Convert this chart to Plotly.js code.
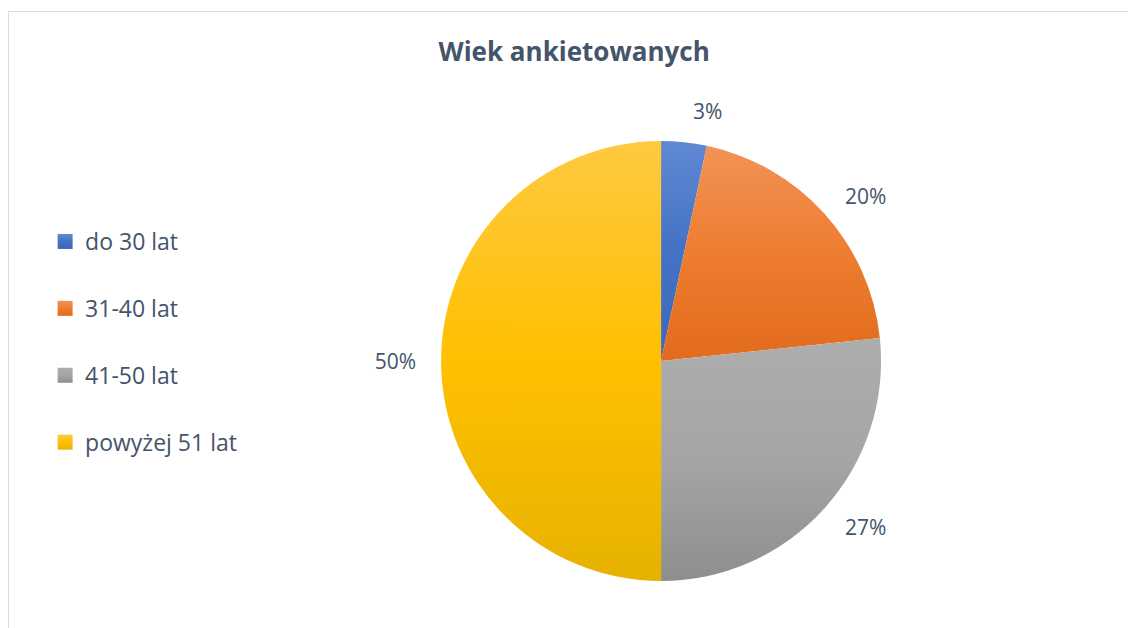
<!DOCTYPE html>
<html>
<head>
<meta charset="utf-8">
<script src="https://cdn.plot.ly/plotly-3.0.1.min.js"></script>
<style>
  html, body { margin: 0; padding: 0; background: #fff; }
  #wrap { position: relative; width: 1128px; height: 628px; overflow: hidden; }
  #chart { width: 1128px; height: 628px; }
  #frame { position: absolute; left: 8px; top: 11px; width: 1200px; height: 700px;
           border-left: 1px solid #dcdcdc; border-top: 1px solid #dcdcdc; pointer-events: none; }
</style>
</head>
<body>
<div id="wrap">
  <div id="chart"></div>
  <div id="frame"></div>
</div>
<script>
// ---- data ----
const categories = ["do 30 lat", "31-40 lat", "41-50 lat", "powyżej 51 lat"];
const counts = [1, 6, 8, 15];
const baseColors = ["#4472C4", "#ED7D31", "#A5A5A5", "#FFC000"];
const topColors = ["#6089D3", "#F29257", "#ADADAD", "#FFC940"];
const bottomColors = ["#3E68BA", "#E26B1C", "#8E8E8E", "#E6B200"];
const chartTitle = "Wiek ankietowanych";

const textColor = "#44546A";
const FONT = "'Open Sans', 'Noto Sans', sans-serif";

const pieMain = {
  type: "pie",
  values: counts,
  labels: categories,
  sort: false,
  direction: "clockwise",
  rotation: 0,
  marker: { colors: baseColors, line: { width: 0 } },
  textinfo: "none",
  hoverinfo: "skip",
  showlegend: false,
  domain: { x: [0.3910, 0.7811], y: [0.0748, 0.7754] }
};

const pieLabels = {
  type: "pie",
  values: counts,
  labels: categories,
  sort: false,
  direction: "clockwise",
  rotation: 0,
  marker: { colors: categories.map(() => "rgba(0,0,0,0)"), line: { width: 0 } },
  textposition: "outside",
  texttemplate: "%{percent:.0%}",
  outsidetextfont: { family: FONT, size: 21, color: textColor },
  hoverinfo: "skip",
  showlegend: false,
  domain: { x: [0.3750, 0.7971], y: [0.046, 0.804] }
};

const legendTraces = categories.map((c, i) => ({
  type: "scatter",
  mode: "markers",
  x: [null], y: [null],
  name: c,
  legendgroup: "g" + i,
  marker: { symbol: "square", size: 15, color: baseColors[i] },
  hoverinfo: "skip"
}));

const layout = {
  width: 1128, height: 628,
  margin: { l: 0, r: 0, t: 0, b: 0 },
  paper_bgcolor: "#fff",
  plot_bgcolor: "rgba(0,0,0,0)",
  title: {
    text: "<b>" + chartTitle + "</b>",
    font: { family: FONT, size: 26, color: textColor },
    x: 0.509, xanchor: "center",
    y: 1 - 52 / 628, yanchor: "middle", yref: "container"
  },
  xaxis: { visible: false }, yaxis: { visible: false },
  showlegend: true,
  legend: {
    x: 0.040, xanchor: "left",
    y: 1 - 220 / 628, yanchor: "top",
    font: { family: FONT, size: 23, color: textColor },
    tracegroupgap: 34,
    bgcolor: "rgba(0,0,0,0)"
  }
};

function makeGrad(defs, id, c0, c1, c2) {
  const ns = "http://www.w3.org/2000/svg";
  const g = document.createElementNS(ns, "linearGradient");
  g.setAttribute("id", id);
  g.setAttribute("x1", "0"); g.setAttribute("y1", "0");
  g.setAttribute("x2", "0"); g.setAttribute("y2", "1");
  [[0, c0], [0.5, c1], [1, c2]].forEach(([o, c]) => {
    const s = document.createElementNS(ns, "stop");
    s.setAttribute("offset", o);
    s.setAttribute("stop-color", c);
    g.appendChild(s);
  });
  defs.appendChild(g);
}

Plotly.newPlot("chart", [pieMain, pieLabels, ...legendTraces], layout,
  { displayModeBar: false, staticPlot: true }).then(gd => {
  const svg = gd.querySelector("svg.main-svg");
  let defs = svg.querySelector("defs");
  if (!defs) { defs = document.createElementNS("http://www.w3.org/2000/svg", "defs"); svg.insertBefore(defs, svg.firstChild); }
  categories.forEach((c, i) => makeGrad(defs, "grad" + i, topColors[i], baseColors[i], bottomColors[i]));
  const traces = gd.querySelectorAll(".pielayer .trace");
  if (traces.length) {
    traces[0].querySelectorAll("g.slice path.surface").forEach((p, i) => {
      p.style.fill = "url(#grad" + i + ")";
    });
  }
  gd.querySelectorAll(".legend .traces").forEach((t, i) => {
    t.querySelectorAll(".legendpoints path").forEach(p => { p.style.fill = "url(#grad" + i + ")"; });
  });
});
</script>
</body>
</html>
